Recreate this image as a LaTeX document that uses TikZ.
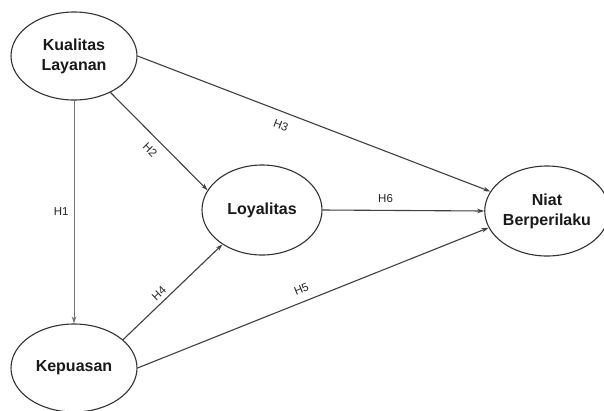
\documentclass[tikz,border=0pt]{standalone}
\usepackage{fontspec}
\setmainfont{Liberation Sans}
\usetikzlibrary{shapes.geometric,arrows.meta}
\begin{document}
\begin{tikzpicture}[x=1pt,y=-1pt,
  var/.style={ellipse,draw=black!80,line width=1.1pt,inner sep=0pt,align=center,
    font=\fontsize{16}{20}\selectfont\bfseries,text=black!90},
  conn/.style={draw=black!75,line width=1.1pt,-{Stealth[length=7pt,width=4.5pt]}},
  lbl/.style={font=\fontsize{11.5}{13}\selectfont,inner sep=0pt,text=black!85}]
\fill[white] (0,0) rectangle (604,410);
\useasboundingbox (0,0) rectangle (604,410);
\node[var,minimum width=126pt,minimum height=88pt] (kl) at (74,56) {Kualitas\\Layanan};
\node[var,minimum width=126pt,minimum height=88pt] (kep) at (74,368) {Kepuasan};
\node[var,minimum width=120pt,minimum height=90pt] (loy) at (262,210) {Loyalitas};
\node[var,minimum width=116pt,minimum height=90pt] (niat) at (547,211) {Niat\\Berperilaku};
\draw[conn,draw=black!55,line width=0.9pt] (kl.south) -- node[lbl,pos=0.5,left=5pt]{H1} (kep.north);
\draw[conn] (kl.-45) -- node[lbl,sloped,pos=0.5,below=8pt]{H2} (loy.160);
\draw[conn] (kl.east) -- node[lbl,sloped,pos=0.42,below=9pt]{H3} (niat.161);
\draw[conn] (kep.30) -- node[lbl,sloped,pos=0.42,above=4pt]{H4} (loy.221);
\draw[conn] (kep.east) -- node[lbl,sloped,pos=0.48,above=8pt]{H5} (niat.196);
\draw[conn] (loy.east) -- node[lbl,pos=0.39,above=7pt]{H6} (niat.west);
\end{tikzpicture}
\end{document}
